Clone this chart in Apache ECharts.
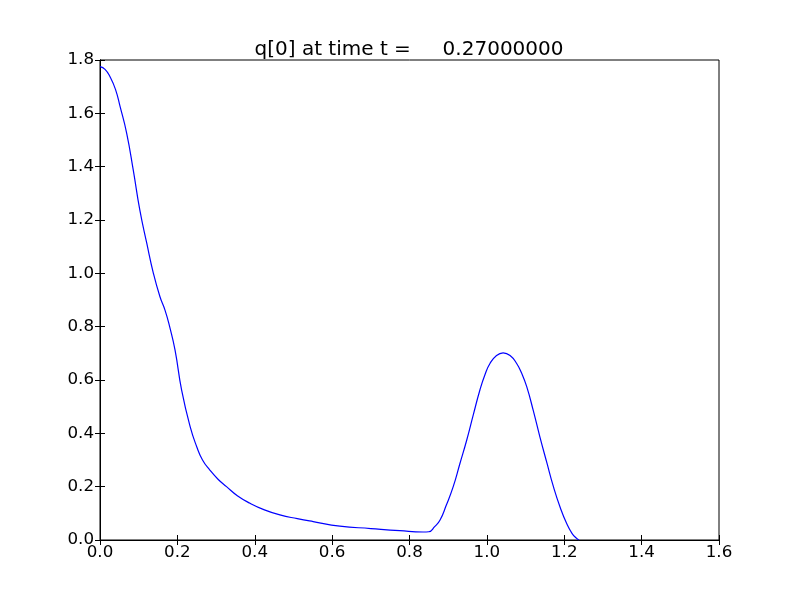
<!DOCTYPE html>
<html>
<head>
<meta charset="utf-8">
<script src="https://cdn.jsdelivr.net/npm/echarts@6/dist/echarts.min.js"></script>
<style>html,body{margin:0;padding:0;background:#fff}#c{width:800px;height:600px}</style>
</head>
<body>
<div id="c"></div>
<script>
var titleText = 'q[0] at time t =     0.27000000';
var xs = [0.0, 0.013, 0.026, 0.04, 0.052, 0.069, 0.086, 0.103, 0.121, 0.138, 0.155, 0.168, 0.18, 0.194, 0.211, 0.233, 0.25, 0.265, 0.284, 0.305, 0.327, 0.355, 0.388, 0.425, 0.465, 0.51, 0.551, 0.62, 0.7, 0.775, 0.835, 0.85, 0.865, 0.879, 0.895, 0.913, 0.93, 0.948, 0.965, 0.982, 0.995, 1.008, 1.025, 1.042, 1.06, 1.077, 1.09, 1.103, 1.12, 1.137, 1.155, 1.172, 1.19, 1.206, 1.22, 1.232, 1.238];
var ys = [1.775, 1.765, 1.737, 1.69, 1.625, 1.525, 1.387, 1.237, 1.112, 1.0, 0.912, 0.862, 0.80, 0.712, 0.562, 0.425, 0.35, 0.30, 0.262, 0.228, 0.2, 0.166, 0.1375, 0.113, 0.094, 0.080, 0.069, 0.052, 0.043, 0.035, 0.030, 0.031, 0.05, 0.075, 0.13, 0.2, 0.285, 0.375, 0.47, 0.5625, 0.62, 0.662, 0.692, 0.702, 0.692, 0.662, 0.625, 0.575, 0.485, 0.387, 0.29, 0.2, 0.12, 0.0625, 0.025, 0.006, 0.0];
var data = xs.map(function (x, i) { return [x, ys[i]]; });
var chart = echarts.init(document.getElementById('c'));
var font = 'DejaVu Sans';
var tick = {show: true, inside: true, length: 5, lineStyle: {color: '#000', width: 1}};
chart.setOption({
  animation: false,
  backgroundColor: '#fff',
  title: {
    text: titleText, left: 404, top: 35, textAlign: 'center',
    textStyle: {fontFamily: font, fontSize: 20, fontWeight: 'normal', color: '#000'}
  },
  grid: {left: 100, right: 81, top: 60, bottom: 60, show: true, borderColor: '#000', borderWidth: 1, backgroundColor: 'transparent'},
  xAxis: [
    {type: 'value', min: 0, max: 1.6, interval: 0.2, position: 'bottom',
     axisLine: {show: true, lineStyle: {color: '#000'}}, axisTick: tick, splitLine: {show: false},
     axisLabel: {fontFamily: font, fontSize: 16.7, color: '#000', margin: 4, formatter: function (v) { return v.toFixed(1); }}},
    {type: 'value', min: 0, max: 1.6, interval: 0.2, position: 'top',
     axisLine: {show: true, lineStyle: {color: '#000'}}, axisTick: tick, splitLine: {show: false}, axisLabel: {show: false}}
  ],
  yAxis: [
    {type: 'value', min: 0, max: 1.8, interval: 0.2, position: 'left',
     axisLine: {show: true, lineStyle: {color: '#000'}}, axisTick: tick, splitLine: {show: false},
     axisLabel: {fontFamily: font, fontSize: 16.7, color: '#000', margin: 6, formatter: function (v) { return v.toFixed(1); }}},
    {type: 'value', min: 0, max: 1.8, interval: 0.2, position: 'right',
     axisLine: {show: true, lineStyle: {color: '#000'}}, axisTick: tick, splitLine: {show: false}, axisLabel: {show: false}}
  ],
  series: [{
    type: 'line', data: data, smooth: 0.5, showSymbol: false, clip: true,
    lineStyle: {color: '#0000ff', width: 1.2}, z: 1
  }]
});
</script>
</body>
</html>
